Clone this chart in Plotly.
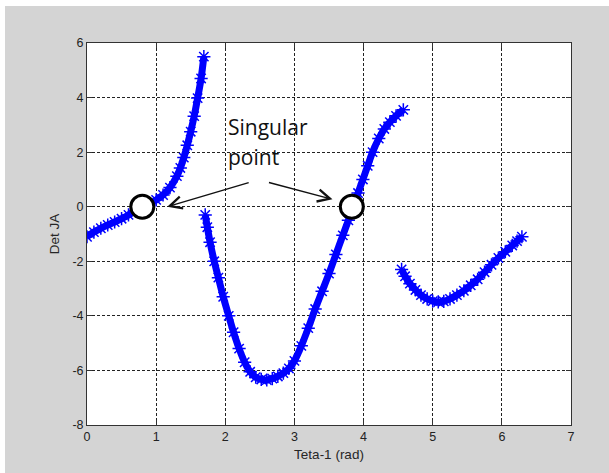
import plotly.graph_objects as go

# Branch 1 of det(JA) vs theta1
x1 = [0.0, 0.1, 0.2, 0.3, 0.4, 0.5, 0.6, 0.7, 0.8, 0.9, 1.0, 1.1, 1.2, 1.3, 1.35, 1.4, 1.45, 1.5, 1.55, 1.6, 1.65, 1.69]
y1 = [-1.1, -0.93, -0.79, -0.67, -0.56, -0.44, -0.3, -0.14, 0.0, 0.12, 0.25, 0.43, 0.7, 1.12, 1.42, 1.8, 2.25, 2.75, 3.32, 3.98, 4.7, 5.5]

# Branch 2
x2 = [1.71, 1.74, 1.78, 1.84, 1.9, 1.97, 2.05, 2.12, 2.2, 2.28, 2.36, 2.44, 2.52, 2.6, 2.68, 2.76,
      2.84, 2.92, 3.0, 3.1, 3.2, 3.3, 3.4, 3.5, 3.6, 3.7, 3.78, 3.85, 3.92, 3.99, 4.06, 4.13,
      4.22, 4.3, 4.38, 4.47, 4.575]
y2 = [-0.3, -0.75, -1.3, -2.0, -2.6, -3.3, -4.0, -4.6, -5.2, -5.7, -6.05, -6.25, -6.33, -6.35, -6.3, -6.22,
      -6.1, -5.93, -5.65, -5.1, -4.45, -3.75, -3.1, -2.45, -1.75, -1.05, -0.5, 0.0, 0.5, 1.0, 1.5, 2.0,
      2.5, 2.85, 3.1, 3.33, 3.55]

# Branch 3
x3 = [4.55, 4.6, 4.67, 4.75, 4.83, 4.92, 5.0, 5.08, 5.16, 5.25, 5.35, 5.45, 5.55, 5.65, 5.75,
      5.85, 5.95, 6.05, 6.15, 6.22, 6.29]
y3 = [-2.3, -2.55, -2.82, -3.05, -3.24, -3.38, -3.46, -3.49, -3.47, -3.38, -3.24, -3.08, -2.88, -2.66, -2.4,
      -2.13, -1.88, -1.65, -1.42, -1.26, -1.1]

# Singular points
xs = [0.80, 3.83]
ys = [0.0, 0.0]

x_ticks = [0, 1, 2, 3, 4, 5, 6, 7]
y_ticks = [-8, -6, -4, -2, 0, 2, 4, 6]

BLUE = "#0000ff"

fig = go.Figure()
for xx, yy in [(x1, y1), (x2, y2), (x3, y3)]:
    fig.add_trace(go.Scatter(
        x=xx, y=yy, mode="lines+markers",
        line=dict(color=BLUE, width=7, shape="spline", smoothing=0.8),
        marker=dict(symbol="asterisk-open", size=11, color=BLUE,
                    line=dict(color=BLUE, width=1.5)),
        showlegend=False, hoverinfo="skip"))

fig.add_trace(go.Scatter(
    x=xs, y=ys, mode="markers",
    marker=dict(symbol="circle", size=23, color="white",
                line=dict(color="black", width=3)),
    showlegend=False, hoverinfo="skip"))

L, R, T, B = 87, 38, 43, 48
W, H = 609, 473
pw, ph = W - L - R, H - T - B

def px_x(p):
    return (p - L) / pw

def px_y(p):
    return (H - B - p) / ph

shapes = [
    dict(type="rect", xref="paper", yref="paper", x0=px_x(0), x1=px_x(W), y0=px_y(6), y1=px_y(0),
         fillcolor="white", line=dict(width=0), layer="below"),
    dict(type="rect", xref="paper", yref="paper", x0=px_x(0), x1=px_x(5), y0=px_y(H), y1=px_y(0),
         fillcolor="white", line=dict(width=0), layer="below"),
]

annotations = [
    dict(x=2.01, y=2.91, xref="x", yref="y", text="Singular", showarrow=False,
         xanchor="left", yanchor="middle", font=dict(family="Open Sans", size=21, color="#111111")),
    dict(x=2.01, y=1.81, xref="x", yref="y", text="point", showarrow=False,
         xanchor="left", yanchor="middle", font=dict(family="Open Sans", size=21, color="#111111")),
    dict(x=1.16, y=0.0, ax=2.36, ay=0.90, xref="x", yref="y", axref="x", ayref="y",
         text="", showarrow=True, arrowhead=5, arrowsize=1.6, arrowwidth=1.5, arrowcolor="#111111", standoff=0),
    dict(x=3.55, y=0.27, ax=2.61, ay=0.90, xref="x", yref="y", axref="x", ayref="y",
         text="", showarrow=True, arrowhead=5, arrowsize=1.6, arrowwidth=1.5, arrowcolor="#111111", standoff=0),
]

axis_common = dict(
    showline=True, linecolor="#333333", linewidth=1, mirror="ticks",
    ticks="inside", ticklen=5, tickcolor="#333333",
    showgrid=True, gridcolor="#222222", gridwidth=1, griddash="3px,2px",
    zeroline=False,
    tickfont=dict(family="Liberation Sans, Arial", size=12.5, color="#222222"),
)

fig.update_layout(
    width=W, height=H,
    margin=dict(l=L, r=R, t=T, b=B, pad=0),
    paper_bgcolor="#d4d4d4", plot_bgcolor="white",
    shapes=shapes, annotations=annotations,
    xaxis=dict(range=[0, 7], tickvals=x_ticks, ticktext=[str(v) for v in x_ticks],
               title=dict(text="Teta-1 (rad)", standoff=6,
                          font=dict(family="Liberation Sans, Arial", size=13.5, color="#262626")),
               automargin=False, **axis_common),
    yaxis=dict(range=[-8, 6], tickvals=y_ticks, ticktext=[str(v) for v in y_ticks],
               title=dict(text="Det JA", standoff=9,
                          font=dict(family="Liberation Sans, Arial", size=13.5, color="#262626")),
               automargin=False, **axis_common),
)

fig.write_html("out.html")
